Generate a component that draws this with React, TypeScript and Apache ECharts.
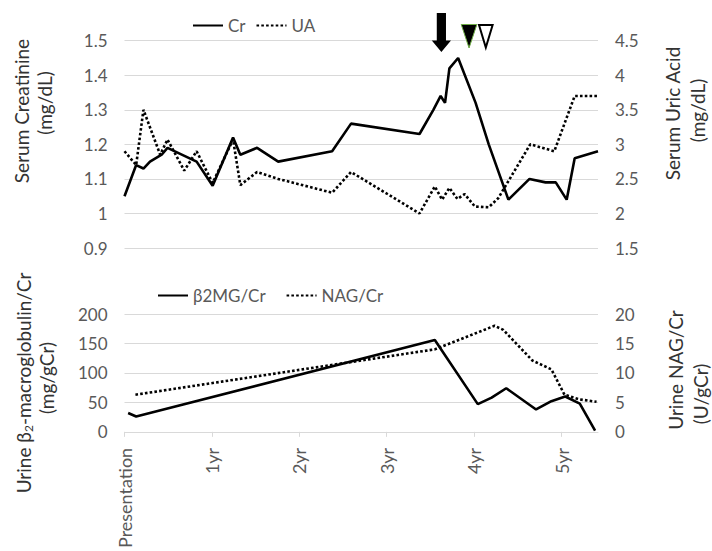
import React, { useEffect, useRef } from "react";
import * as echarts from "echarts";

// Time since presentation (months)
const crMonths = [0, 1.6, 2.6, 3.5, 5.1, 5.9, 9.9, 12.1, 14.9, 15.9, 18.2, 21.1, 28.5, 31.1, 40.5, 42.4, 43.4, 44.0, 44.6, 45.8, 48.2, 50.0, 52.7, 55.6, 57.8, 59.2, 60.7, 61.8, 65];
const crValues = [1.05, 1.14, 1.13, 1.15, 1.17, 1.19, 1.15, 1.08, 1.22, 1.17, 1.19, 1.15, 1.18, 1.26, 1.23, 1.30, 1.34, 1.32, 1.42, 1.45, 1.32, 1.20, 1.04, 1.10, 1.09, 1.09, 1.04, 1.16, 1.18];

const uaMonths = [0, 1.6, 2.6, 4.9, 5.9, 8.2, 9.9, 12.1, 14.9, 15.9, 18.2, 21.1, 28.5, 31.1, 40.5, 42.6, 43.6, 44.6, 45.7, 46.7, 48.1, 50.0, 51.3, 55.7, 59.0, 61.8, 65];
const uaValues = [2.9, 2.7, 3.5, 2.85, 3.07, 2.62, 2.9, 2.44, 3.07, 2.41, 2.6, 2.5, 2.3, 2.6, 2.0, 2.39, 2.2, 2.37, 2.21, 2.28, 2.1, 2.09, 2.22, 3.0, 2.9, 3.7, 3.7];

const b2mgMonths = [0.5, 1.6, 42.6, 48.5, 50.4, 52.4, 56.5, 58.6, 60.5, 62.5, 64.6];
const b2mgValues = [32, 26, 156, 47, 58, 74, 38, 52, 60, 48, 2];

const nagMonths = [1.5, 42.6, 50.8, 52.0, 56.0, 58.6, 60.4, 62.5, 64.8];
const nagValues = [6.3, 14, 18, 17.3, 12.1, 10.6, 6.3, 5.5, 5.1];

const xTicks = [0, 12, 24, 36, 48, 60];
const xTickLabels = ["Presentation", "1yr", "2yr", "3yr", "4yr", "5yr"];

// Event markers (months)
const arrowMonth = 43.5;
const filledTriMonth = 47.3;
const openTriMonth = 49.6;

const FONT = "Lato, 'Noto Sans', sans-serif";
const GRID_COLOR = "#d9d9d9";
const LABEL_COLOR = "#595959";
const TITLE_COLOR = "#333333";

const zip = (xs: number[], ys: number[]) => xs.map((x, i) => [x, ys[i]]);

export default function App() {
  const ref = useRef<HTMLDivElement>(null);

  useEffect(() => {
    if (!ref.current) return;
    const chart = echarts.init(ref.current, undefined, { renderer: "svg" });

    const solid = { color: "#000", width: 2.6, type: "solid" as const };
    const dotted = { color: "#000", width: 2.6, type: [2.6, 2.2] as any, cap: "butt" as const };

    const axisLabel = { color: LABEL_COLOR, fontSize: 17, fontFamily: FONT, margin: 17 };

    const legendBase = {
      itemWidth: 30,
      itemHeight: 14,
      padding: 0,
      itemStyle: { opacity: 0 },
      textStyle: { color: LABEL_COLOR, fontSize: 17, fontFamily: FONT },
    };

    const option: any = {
      animation: false,
      backgroundColor: "#fff",
      textStyle: { fontFamily: FONT },
      legend: [
        { ...legendBase, data: ["Cr", "UA"], left: 192, top: 17, itemGap: 10 },
        { ...legendBase, data: ["β2MG/Cr", "NAG/Cr"], left: 157, top: 287, itemGap: 20 },
      ],
      grid: [
        { left: 124.5, right: 114, top: 40.7, height: 207.3 },
        { left: 124.5, right: 114, top: 314, height: 118 },
      ],
      xAxis: [
        {
          type: "value",
          gridIndex: 0,
          min: 0,
          max: 65,
          interval: 12,
          axisLine: { show: false },
          axisTick: { show: false },
          axisLabel: { show: false },
          splitLine: { show: false },
        },
        {
          type: "value",
          gridIndex: 1,
          min: 0,
          max: 65,
          interval: 12,
          axisLine: { show: true, onZero: false, lineStyle: { color: GRID_COLOR, width: 1 } },
          axisTick: { show: true, length: 5, lineStyle: { color: GRID_COLOR }, customValues: xTicks },
          axisLabel: {
            color: LABEL_COLOR,
            fontSize: 18,
            fontFamily: FONT,
            rotate: 90,
            margin: 16,
            customValues: xTicks,
            formatter: (v: number) => {
              const i = xTicks.indexOf(Math.round(v));
              return i >= 0 ? xTickLabels[i] : "";
            },
          },
          splitLine: { show: false },
        },
      ],
      yAxis: [
        {
          type: "value",
          gridIndex: 0,
          min: 0.9,
          max: 1.5,
          interval: 0.1,
          axisLine: { show: false },
          axisTick: { show: false },
          axisLabel: { ...axisLabel, formatter: (v: number) => String(Math.round(v * 10) / 10) },
          splitLine: { show: true, lineStyle: { color: GRID_COLOR, width: 1 } },
        },
        {
          type: "value",
          gridIndex: 0,
          position: "right",
          min: 1.5,
          max: 4.5,
          interval: 0.5,
          axisLine: { show: false },
          axisTick: { show: false },
          axisLabel: { ...axisLabel, formatter: (v: number) => String(Math.round(v * 10) / 10) },
          splitLine: { show: false },
        },
        {
          type: "value",
          gridIndex: 1,
          min: 0,
          max: 200,
          interval: 50,
          axisLine: { show: false },
          axisTick: { show: false },
          axisLabel: axisLabel,
          splitLine: { show: true, lineStyle: { color: GRID_COLOR, width: 1 } },
        },
        {
          type: "value",
          gridIndex: 1,
          position: "right",
          min: 0,
          max: 20,
          interval: 5,
          axisLine: { show: false },
          axisTick: { show: false },
          axisLabel: axisLabel,
          splitLine: { show: false },
        },
      ],
      series: [
        {
          name: "Cr",
          type: "line",
          xAxisIndex: 0,
          yAxisIndex: 0,
          data: zip(crMonths, crValues),
          symbol: "none",
          lineStyle: solid,
          itemStyle: { color: "#000" },
          z: 3,
        },
        {
          name: "UA",
          type: "line",
          xAxisIndex: 0,
          yAxisIndex: 1,
          data: zip(uaMonths, uaValues),
          symbol: "none",
          lineStyle: dotted,
          itemStyle: { color: "#000" },
          z: 2,
        },
        {
          name: "β2MG/Cr",
          type: "line",
          xAxisIndex: 1,
          yAxisIndex: 2,
          data: zip(b2mgMonths, b2mgValues),
          symbol: "none",
          lineStyle: solid,
          itemStyle: { color: "#000" },
          z: 3,
        },
        {
          name: "NAG/Cr",
          type: "line",
          xAxisIndex: 1,
          yAxisIndex: 3,
          data: zip(nagMonths, nagValues),
          symbol: "none",
          lineStyle: dotted,
          itemStyle: { color: "#000" },
          z: 2,
        },
      ],
    };

    chart.setOption(option);

    const px = (m: number) => chart.convertToPixel({ xAxisIndex: 0 }, m) as number;
    const ax = px(arrowMonth);
    const fx = px(filledTriMonth);
    const ox = px(openTriMonth);

    const titleStyle = (text: string, extra: any = {}) => ({
      text,
      fill: TITLE_COLOR,
      fontSize: 19,
      fontFamily: FONT,
      align: "center",
      verticalAlign: "middle",
      ...extra,
    });

    chart.setOption({
      graphic: [
        {
          type: "polygon",
          shape: {
            points: [
              [ax - 4.6, 13],
              [ax + 4.6, 13],
              [ax + 4.6, 40.5],
              [ax + 9.6, 40.5],
              [ax, 52],
              [ax - 9.6, 40.5],
              [ax - 4.6, 40.5],
            ],
          },
          style: { fill: "#000" },
        },
        {
          type: "polygon",
          shape: { points: [[fx - 7.8, 24.5], [fx + 7.8, 24.5], [fx, 48]] },
          style: { fill: "#000", stroke: "#70ad47", lineWidth: 1 },
        },
        {
          type: "polygon",
          shape: { points: [[ox - 6.8, 25], [ox + 6.8, 25], [ox, 47.5]] },
          style: { fill: "#fff", stroke: "#000", lineWidth: 2 },
        },
        { type: "text", x: 21.5, y: 111, rotation: Math.PI / 2, style: titleStyle("Serum Creatinine") },
        { type: "text", x: 44, y: 103, rotation: Math.PI / 2, style: titleStyle("(mg/dL)") },
        { type: "text", x: 672, y: 113.5, rotation: Math.PI / 2, style: titleStyle("Serum Uric Acid") },
        { type: "text", x: 697.5, y: 110.5, rotation: Math.PI / 2, style: titleStyle("(mg/dL)") },
        {
          type: "text",
          x: 23,
          y: 383,
          rotation: Math.PI / 2,
          style: titleStyle("Urine β{sub|2}-macroglobulin/Cr", {
            rich: {
              sub: { fontSize: 12, fontFamily: FONT, fill: TITLE_COLOR, padding: [10, 0, 0, 0] },
            },
          }),
        },
        { type: "text", x: 46.5, y: 378, rotation: Math.PI / 2, style: titleStyle("(mg/gCr)") },
        { type: "text", x: 675.5, y: 370, rotation: Math.PI / 2, style: titleStyle("Urine NAG/Cr") },
        { type: "text", x: 700, y: 394, rotation: Math.PI / 2, style: titleStyle("(U/gCr)") },
      ],
    });

    return () => chart.dispose();
  }, []);

  return <div ref={ref} style={{ width: 712, height: 551, position: "absolute", left: 0, top: 0 }} />;
}
